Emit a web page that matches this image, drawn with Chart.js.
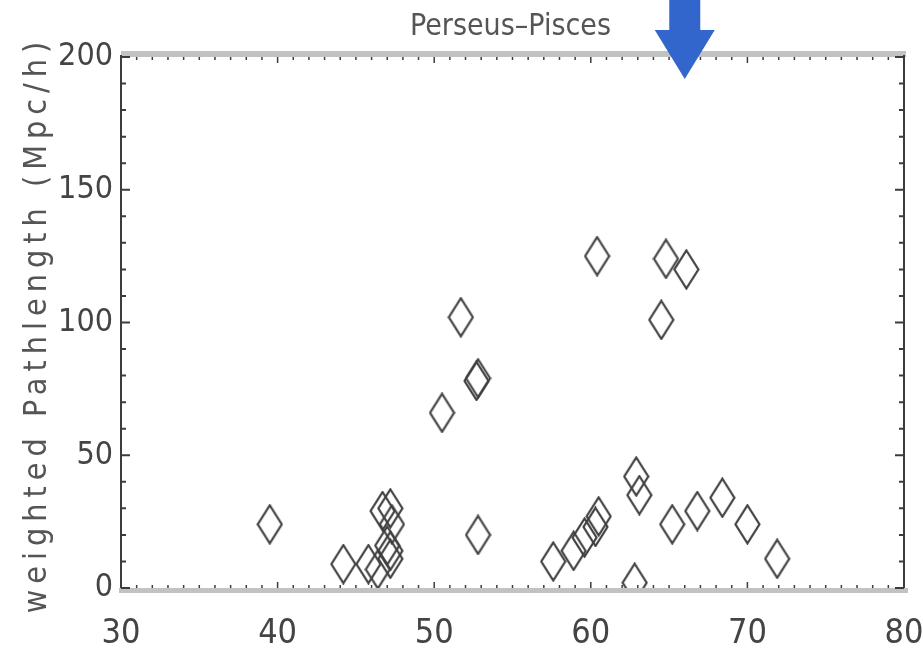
<!DOCTYPE html>
<html>
<head>
<meta charset="utf-8">
<script src="https://cdn.jsdelivr.net/npm/chart.js@4.4.1/dist/chart.umd.min.js"></script>
<style>
  html, body { margin: 0; padding: 0; background: #fff; }
  #wrap { width: 923px; height: 659px; }
</style>
</head>
<body>
<div id="wrap"><canvas id="myChart" width="923" height="659"></canvas></div>
<script>
// values
const xVals = [39.5, 44.2, 45.8, 46.7, 47.2, 47.3, 47.0, 47.2, 47.2, 46.4,
               50.5, 51.7, 52.7, 52.8, 52.8, 57.6, 58.9, 59.6, 60.3, 60.5,
               60.4, 62.8, 62.9, 63.1, 64.5, 64.8, 65.2, 66.1, 66.8, 68.4,
               70.0, 71.9];
const yVals = [24, 9, 9, 29, 30, 24, 16, 14, 11, 7,
               66, 102, 78, 79, 20, 10, 14, 19, 23, 27,
               125, 2, 42, 35, 101, 124, 24, 120, 29, 34,
               24, 11];
const xTicks = [30, 40, 50, 60, 70, 80];
const yTicks = [0, 50, 100, 150, 200];
const chartTitle = "Perseus\u2013Pisces";
const yTitle = "weighted Pathlength (Mpc/h)";
const arrowX = 66;

const tickFont = "'Liberation Sans Narrow', 'DejaVu Sans Condensed', sans-serif";

// tall diamond marker
function makeDiamond() {
  const c = document.createElement("canvas");
  c.width = 27; c.height = 41;
  const g = c.getContext("2d");
  g.strokeStyle = "#404040";
  g.lineWidth = 2.2;
  g.beginPath();
  g.moveTo(13.5, 1.5);
  g.lineTo(25.5, 20.5);
  g.lineTo(13.5, 39.5);
  g.lineTo(1.5, 20.5);
  g.closePath();
  g.stroke();
  return c;
}
const diamond = makeDiamond();

const points = xVals.map((x, i) => ({ x: x, y: yVals[i] }));

const framePlugin = {
  id: "frame",
  afterDatasetsDraw(chart) {
    const ctx = chart.ctx;
    const a = chart.chartArea;
    const xs = chart.scales.x;
    const ys = chart.scales.y;
    ctx.save();

    // grey bands top and bottom
    ctx.fillStyle = "#c2c2c2";
    ctx.fillRect(a.left, a.top - 6, a.right - a.left + 2, 6);
    ctx.fillRect(a.left - 2, a.bottom, a.right - a.left + 6, 5);

    // side axes
    ctx.strokeStyle = "#3c3c3c";
    ctx.lineWidth = 2;
    ctx.beginPath();
    ctx.moveTo(a.left, a.top - 2); ctx.lineTo(a.left, a.bottom);
    ctx.moveTo(a.right, a.top - 2); ctx.lineTo(a.right, a.bottom);
    ctx.stroke();

    // y ticks, every 10, inside on both sides
    ctx.lineWidth = 2;
    for (let v = 0; v <= 200; v += 10) {
      const py = ys.getPixelForValue(v);
      const len = v % 50 === 0 ? 9 : 5;
      ctx.beginPath();
      ctx.moveTo(a.left, py); ctx.lineTo(a.left + len, py);
      ctx.moveTo(a.right, py); ctx.lineTo(a.right - len, py);
      ctx.stroke();
    }
    // x ticks, every 1, inside top and bottom
    ctx.lineWidth = 1.5;
    for (let v = 30; v <= 80; v += 1) {
      const px = xs.getPixelForValue(v);
      const len = v % 10 === 0 ? 6 : 3;
      ctx.beginPath();
      ctx.moveTo(px, a.bottom); ctx.lineTo(px, a.bottom - len);
      ctx.moveTo(px, a.top); ctx.lineTo(px, a.top + len);
      ctx.stroke();
    }

    // title
    ctx.fillStyle = "#555";
    ctx.font = "30px " + tickFont;
    ctx.textAlign = "center";
    ctx.textBaseline = "middle";
    ctx.fillText(chartTitle, (a.left + a.right) / 2 - 2, 27);

    // y axis title
    ctx.save();
    ctx.translate(38, (a.top + a.bottom) / 2 + 2);
    ctx.rotate(-Math.PI / 2);
    ctx.letterSpacing = "6px";
    ctx.font = "32px " + tickFont;
    ctx.fillStyle = "#555";
    ctx.fillText(yTitle, 0, 0);
    ctx.restore();

    // blue arrow
    const ax = xs.getPixelForValue(arrowX);
    ctx.fillStyle = "#3366cc";
    ctx.beginPath();
    ctx.moveTo(ax - 15.5, 0);
    ctx.lineTo(ax + 15.5, 0);
    ctx.lineTo(ax + 15.5, 30);
    ctx.lineTo(ax + 30, 30);
    ctx.lineTo(ax, 79);
    ctx.lineTo(ax - 30, 30);
    ctx.lineTo(ax - 15.5, 30);
    ctx.closePath();
    ctx.fill();

    ctx.restore();
  }
};

const config = {
  type: "scatter",
  data: {
    datasets: [{
      data: points,
      pointStyle: diamond,
      pointRadius: 13,
      pointHoverRadius: 13
    }]
  },
  options: {
    responsive: false,
    animation: false,
    layout: { padding: { top: 57, right: 19, left: 0, bottom: 0 } },
    plugins: { legend: { display: false }, tooltip: { enabled: false } },
    scales: {
      x: {
        type: "linear",
        min: 30, max: 80,
        afterBuildTicks(scale) { scale.ticks = xTicks.map(v => ({ value: v })); },
        afterFit(scale) {
          scale.height = 71;
          scale.paddingLeft = 0;
          scale.paddingRight = 0;
        },
        grid: { display: false, drawTicks: false },
        border: { display: false },
        ticks: {
          padding: 26,
          color: "#444",
          font: { family: tickFont, size: 34 }
        }
      },
      y: {
        type: "linear",
        min: 0, max: 200,
        afterBuildTicks(scale) { scale.ticks = yTicks.map(v => ({ value: v })); },
        afterFit(scale) {
          scale.width = 121;
          scale.paddingTop = 0;
          scale.paddingBottom = 0;
        },
        grid: { display: false, drawTicks: false },
        border: { display: false },
        ticks: {
          padding: 8,
          color: "#444",
          font: { family: tickFont, size: 32 }
        }
      }
    }
  },
  plugins: [framePlugin]
};

new Chart(document.getElementById("myChart"), config);
</script>
</body>
</html>
